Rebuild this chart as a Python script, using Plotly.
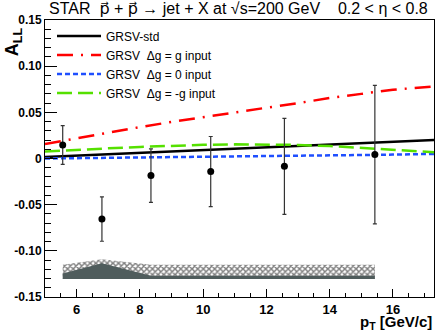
import plotly.graph_objects as go

# measured asymmetry points
pt = [5.56, 6.8, 8.35, 10.24, 12.57, 15.43]
all_vals = [0.0147, -0.0656, -0.0185, -0.0142, -0.0085, 0.0043]
stat_err = [0.021, 0.024, 0.029, 0.038, 0.052, 0.075]

# systematic band
sys_top = [-0.115, -0.109, -0.115, -0.115, -0.115, -0.115]
sys_dark = [-0.1245, -0.1135, -0.127, -0.127, -0.127, -0.127]
sys_base = -0.1305

# theory curves
pt_curve = [5, 6, 7, 8, 9, 10, 11, 12, 13, 14, 15, 16, 17.3]
grsv_std = [0.0015, 0.003, 0.0045, 0.006, 0.0075, 0.009, 0.0105, 0.012, 0.0135, 0.015, 0.0165, 0.018, 0.020]
grsv_max = [0.0157, 0.022, 0.028, 0.034, 0.0396, 0.045, 0.050, 0.055, 0.060, 0.0655, 0.070, 0.0745, 0.078]
grsv_zero = [0.0, 0.0003, 0.0007, 0.001, 0.0014, 0.0018, 0.0022, 0.0026, 0.003, 0.0034, 0.0038, 0.0042, 0.005]
grsv_min = [0.0075, 0.0095, 0.011, 0.0125, 0.0138, 0.0148, 0.0153, 0.0153, 0.0147, 0.0135, 0.0117, 0.0095, 0.0068]

y_ticks = [-0.15, -0.10, -0.05, 0, 0.05, 0.10, 0.15]
y_labels = ["-0.15", "-0.10", "-0.05", "0", "0.05", "0.10", "0.15"]
x_ticks = [6, 8, 10, 12, 14, 16]

fig = go.Figure()

# hatched systematic band
fig.add_trace(go.Scatter(
    x=pt + pt[::-1], y=sys_top + [sys_base] * len(pt),
    fill="toself", mode="lines", line=dict(width=0),
    fillcolor="white",
    fillpattern=dict(shape="x", fgcolor="black", bgcolor="white", size=4, solidity=0.6),
    showlegend=False, hoverinfo="skip"))
# dark part of the band
fig.add_trace(go.Scatter(
    x=pt + pt[::-1], y=sys_dark + [sys_base] * len(pt),
    fill="toself", mode="lines", line=dict(width=0),
    fillcolor="#4f5c5c", showlegend=False, hoverinfo="skip"))

curves = [
    ("GRSV-std", grsv_std, "black", "solid", 2.5),
    ("GRSV  \u0394g = g input", grsv_max, "#ff0000", "16px,8px,2px,8px", 2.5),
    ("GRSV  \u0394g = 0 input", grsv_zero, "#1f4fff", "5px,3px", 2.5),
    ("GRSV  \u0394g = -g input", grsv_min, "#55e000", "15px,6px", 2.5),
]
for name, vals, col, dash, w in curves:
    fig.add_trace(go.Scatter(x=pt_curve, y=vals, mode="lines", name=name,
                             line=dict(color=col, dash=dash, width=w)))

fig.add_trace(go.Scatter(
    x=pt, y=all_vals, mode="markers", showlegend=False,
    marker=dict(color="black", size=7),
    error_y=dict(type="data", array=stat_err, color="#333333", thickness=1.2, width=2)))

fig.update_xaxes(range=[5, 17.3], tickvals=x_ticks, ticks="inside", ticklen=8,
                 tickcolor="black", showline=True, linecolor="black", linewidth=1,
                 mirror=True, showgrid=False, zeroline=False,
                 tickfont=dict(family="Liberation Sans, Arial", size=13, color="black", weight="bold"),
                 minor=dict(dtick=0.5, ticks="inside", ticklen=4, tickcolor="black"))
fig.update_yaxes(range=[-0.15, 0.15], tickvals=y_ticks, ticktext=y_labels,
                 ticks="inside", ticklen=12, tickcolor="black",
                 showline=True, linecolor="black", linewidth=1, mirror=True,
                 showgrid=False, zeroline=False,
                 tickfont=dict(family="Liberation Sans, Arial", size=12, color="black", weight="bold"),
                 minor=dict(dtick=0.01, ticks="inside", ticklen=6, tickcolor="black"))

pvec = "<span style='font-family:DejaVu Sans'>p\u20d7</span>"
sp = "\u00a0"
title = ("STAR" + sp * 2 + pvec + " + " + pvec + " \u2192 jet + X at \u221as=200 GeV"
         + sp * 4 + "0.2 < \u03b7 < 0.8")

fig.update_layout(
    width=436, height=333,
    margin=dict(l=45, r=2, t=20, b=36),
    paper_bgcolor="white", plot_bgcolor="white",
    font=dict(family="Liberation Sans, Arial", color="black"),
    legend=dict(x=0.018, y=0.995, xanchor="left", yanchor="top",
                bgcolor="rgba(0,0,0,0)", font=dict(size=12),
                itemwidth=44, tracegroupgap=0),
    annotations=[
        dict(text=title,
             xref="paper", yref="paper", x=0.005, y=1.0, xanchor="left", yanchor="bottom",
             showarrow=False, font=dict(size=16)),
        dict(text="<b>A<sub>LL</sub></b>", textangle=-90,
             xref="paper", yref="paper", x=-0.082, y=0.98, xanchor="center", yanchor="top",
             showarrow=False, font=dict(size=18)),
        dict(text="<b>p<sub>T</sub> [GeV/c]</b>",
             xref="paper", yref="paper", x=1.0, y=-0.052, xanchor="right", yanchor="top",
             showarrow=False, font=dict(size=15)),
    ],
)

fig.write_html("out.html", config={"displayModeBar": False},
               post_script="document.body.style.margin='0';")
